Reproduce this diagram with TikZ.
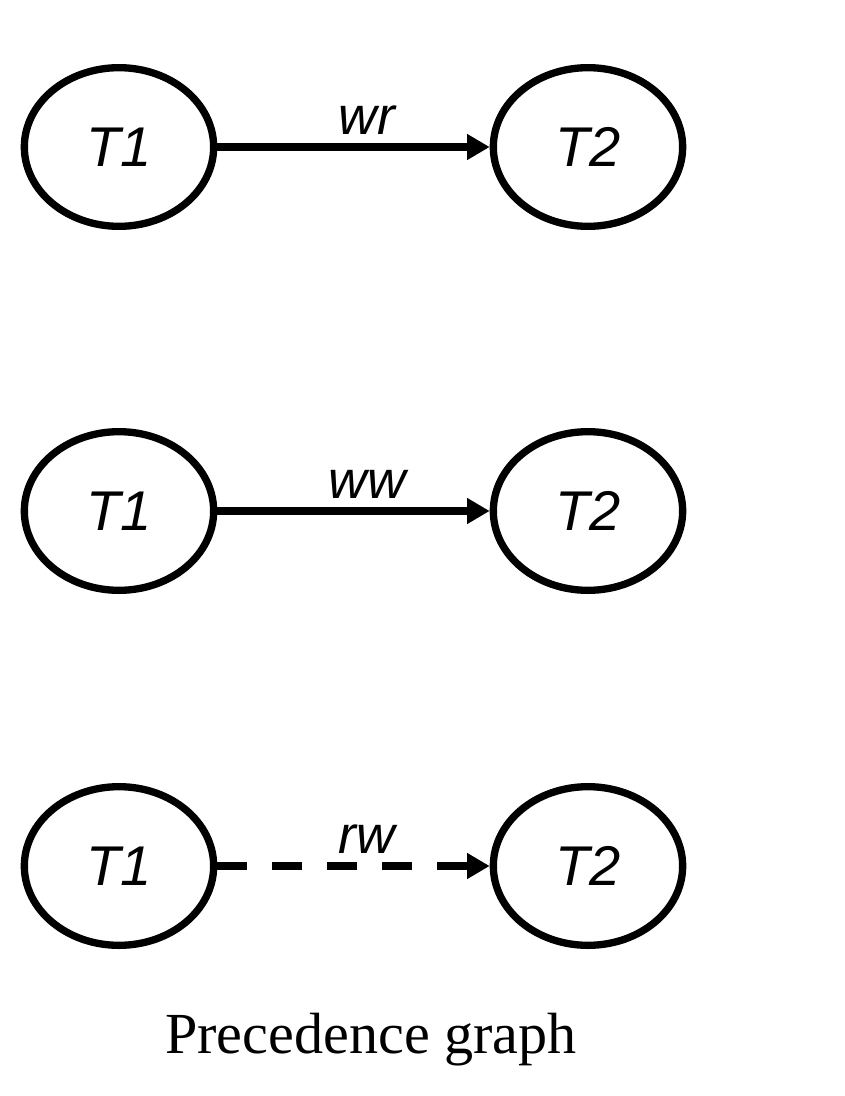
\documentclass[tikz,border=0pt]{standalone}
\usepackage{fontspec}
\setmainfont{Liberation Serif}
\newfontfamily\arialfont{Liberation Sans}
\usetikzlibrary{arrows.meta,shapes.geometric}
\begin{document}
\begin{tikzpicture}[x=0.75pt,y=-0.75pt,
txn/.style={ellipse,draw,line width=5.5pt,minimum width=142pt,minimum height=119pt,inner sep=0,font=\arialfont\itshape\fontsize{42}{42}\selectfont},
dep/.style={line width=6.5pt,-{Triangle[length=17pt,width=18.5pt]}},
rwdash/.style={dash pattern=on 22.5pt off 18.75pt},
lbl/.style={font=\arialfont\itshape\fontsize{40}{40}\selectfont,anchor=base,inner sep=0}]
\useasboundingbox(0,0)rectangle(844,1096);
\foreach \r/\y/\l/\s in {a/147/wr/solid,b/511/ww/solid,c/866/rw/rwdash}{
\node[txn](\r1)at(119,\y){T1};
\node[txn](\r2)at(588,\y){T2};
\draw[dep,\s](\r1)--node[lbl,pos=0.55,yshift=9.5pt]{\l}(\r2);}
\node[font=\fontsize{43.6}{44}\selectfont,anchor=base](cap)at(371,1053){Precedence graph};
\end{tikzpicture}
\end{document}
